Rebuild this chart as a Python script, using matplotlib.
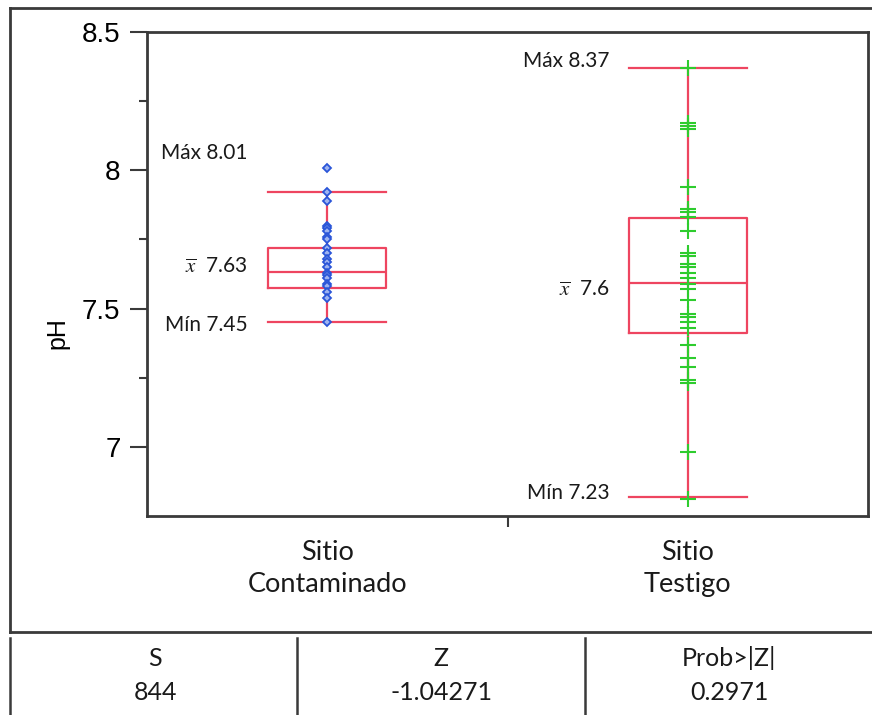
import numpy as np
import matplotlib
matplotlib.use("Agg")
import matplotlib.pyplot as plt
from matplotlib.lines import Line2D

plt.rcParams["mathtext.fontset"] = "stix"

# data
groups = ["Sitio\nContaminado", "Sitio\nTestigo"]
ph_contaminado = [8.01, 7.92, 7.89, 7.80, 7.79, 7.78, 7.76, 7.75, 7.72, 7.70, 7.68,
                  7.67, 7.65, 7.63, 7.62, 7.61, 7.59, 7.58, 7.56, 7.54, 7.45]
ph_testigo = [8.37, 8.17, 8.16, 8.15, 7.94, 7.86, 7.85, 7.83, 7.78, 7.70, 7.69, 7.66,
              7.65, 7.63, 7.61, 7.59, 7.57, 7.53, 7.48, 7.47, 7.45, 7.43, 7.37, 7.32,
              7.29, 7.24, 7.23, 6.98, 6.81]
# box stats as drawn: whislo, q1, med, q3, whishi
box_contaminado = [7.45, 7.576, 7.633, 7.72, 7.92]
box_testigo = [6.82, 7.413, 7.594, 7.829, 8.37]
max_labels = ["Máx 8.01", "Máx 8.37"]
mean_labels = ["7.63", "7.6"]
min_labels = ["Mín 7.45", "Mín 7.23"]
table_head = ["S", "Z", "Prob>|Z|"]
table_vals = ["844", "-1.04271", "0.2971"]

RED = "#ee4560"
BLUE = "#2a55d8"
GREEN = "#2ecc2e"
FRAME = "#3a3a3a"
TXT = "Lato"

fig = plt.figure(figsize=(8.72, 7.15), dpi=100)

# pixel overlay for the outer frame and the stats table
bg = fig.add_axes([0, 0, 1, 1], zorder=0)
bg.set_xlim(0, 872)
bg.set_ylim(715, 0)
bg.axis("off")
bg.add_line(Line2D([10, 10], [8, 632], color=FRAME, lw=2))
bg.add_line(Line2D([10, 872], [8, 8], color=FRAME, lw=2))
bg.add_line(Line2D([10, 872], [632, 632], color=FRAME, lw=2))
for xv in [10, 297, 585]:
    bg.add_line(Line2D([xv, xv], [638, 715], color=FRAME, lw=1.8))
for cx, h, v in zip([155, 441, 729], table_head, table_vals):
    bg.text(cx, 658, h, ha="center", va="center", fontsize=18, family=TXT, color="#1a1a1a")
    bg.text(cx, 692, v, ha="center", va="center", fontsize=18, family=TXT, color="#1a1a1a")

ax = fig.add_axes([147 / 872, 199 / 715, 721 / 872, 484 / 715], zorder=1)

pos = [0.5, 1.5]
stats = []
for b in [box_contaminado, box_testigo]:
    stats.append({"whislo": b[0], "q1": b[1], "med": b[2], "q3": b[3], "whishi": b[4], "fliers": []})
ax.bxp(stats, positions=pos, widths=0.327, capwidths=0.327, showfliers=False,
       boxprops=dict(color=RED, lw=1.6), whiskerprops=dict(color=RED, lw=1.6),
       capprops=dict(color=RED, lw=1.6), medianprops=dict(color=RED, lw=1.6))

ax.plot([pos[0]] * len(ph_contaminado), ph_contaminado, ls="none", marker="D", ms=3.8,
        mfc="#9fb4f0", mec=BLUE, mew=1.3, zorder=3)
ax.plot([pos[1]] * len(ph_testigo), ph_testigo, ls="none", marker="+", ms=11,
        mec=GREEN, mew=1.5, zorder=3)

# annotations
txt = dict(ha="right", va="center", fontsize=15, family=TXT, color="#1a1a1a")
ax.text(0.28, 8.063, max_labels[0], **txt)
ax.text(0.28, 7.652, r"$\overline{x}$  " + mean_labels[0], **txt)
ax.text(0.28, 7.442, min_labels[0], **txt)
ax.text(1.284, 8.395, max_labels[1], **txt)
ax.text(1.284, 7.569, r"$\overline{x}$  " + mean_labels[1], **txt)
ax.text(1.284, 6.832, min_labels[1], **txt)

ax.set_xlim(0, 2)
ax.set_ylim(6.75, 8.5)
ax.set_xticks(pos)
ax.set_xticklabels(groups, fontsize=19.5, family=TXT, linespacing=1.35, color="#1a1a1a")
ax.set_xticks([1], minor=True)
ax.tick_params(axis="x", which="major", length=0, pad=17)
ax.tick_params(axis="x", which="minor", length=8, width=1.5, color=FRAME)
ax.set_yticks([7, 7.5, 8, 8.5])
ax.set_yticklabels(["7", "7.5", "8", "8.5"], fontsize=20, family="Liberation Sans")
ax.set_yticks([7.25, 7.75, 8.25], minor=True)
ax.tick_params(axis="y", which="major", length=12, width=1.5, color=FRAME, pad=7)
ax.tick_params(axis="y", which="minor", length=6, width=1.5, color=FRAME)
ax.set_ylabel("pH", fontsize=18, family="Liberation Sans")
ax.yaxis.set_label_coords(-0.108, 0.378)
for s in ax.spines.values():
    s.set_color(FRAME)
    s.set_linewidth(2)

fig.savefig("out.png", dpi=100)
